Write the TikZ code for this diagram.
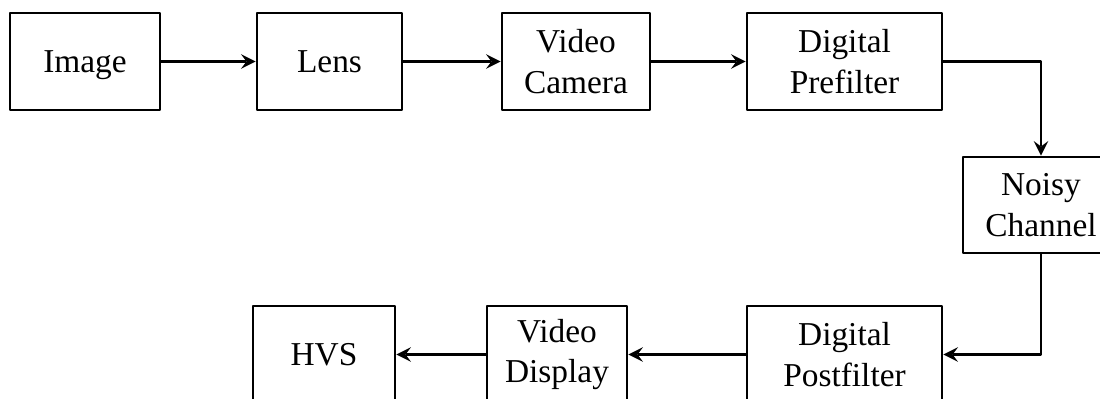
\documentclass[tikz,border=0pt]{standalone}
\usepackage{fontspec}
\setmainfont{Liberation Serif}
\begin{document}
\begin{tikzpicture}[>=stealth, line width=0.8pt, line join=round,
	font=\fontsize{9.5pt}{11.5pt}\selectfont,
	blk/.style={draw, align=center, inner sep=0pt, minimum height=0.97cm}]
		\useasboundingbox (0,0) rectangle (11,-3.98);
		%\draw[color=gray!50,dashed] (0,0) grid (11,-3.98);
		% top row
		\node[blk, minimum width=1.50cm, text depth=0pt] (img) at (0.85,-0.615) {Image};
		\node[blk, minimum width=1.45cm] (lens) at (3.295,-0.615) {Lens};
		\node[blk, minimum width=1.48cm] (cam) at (5.76,-0.615) {Video\\Camera};
		\node[blk, minimum width=1.95cm] (pre) at (8.445,-0.615) {Digital\\Prefilter};
		% channel
		\node[blk, minimum width=1.56cm, minimum height=0.96cm] (noisy) at (10.41,-2.05) {Noisy\\Channel};
		% bottom row
		\node[blk, minimum width=1.95cm] (post) at (8.445,-3.545) {Digital\\Postfilter};
		\node[blk, minimum width=1.40cm] (disp) at (5.57,-3.545) {Video\\Display};
		\node[blk, minimum width=1.42cm] (hvs) at (3.24,-3.545) {HVS};
		\draw[->] (img)--(lens);
		\draw[->] (lens)--(cam);
		\draw[->] (cam)--(pre);
		\draw[->] (pre.east) -| (noisy.north);
		\draw[->] (noisy.south) |- (post.east);
		\draw[->] (post)--(disp);
		\draw[->] (disp)--(hvs);
	\end{tikzpicture}
\end{document}
